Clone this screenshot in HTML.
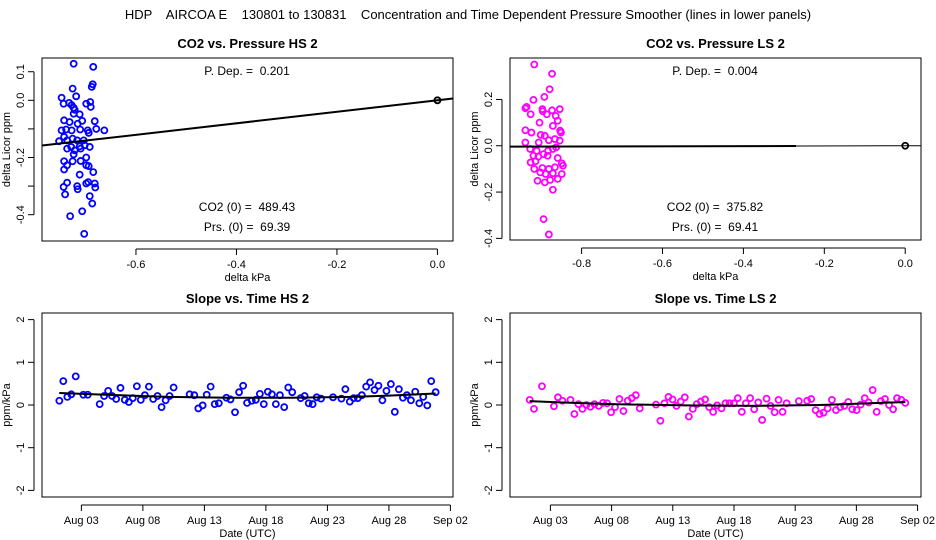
<!DOCTYPE html>
<html><head><meta charset="utf-8"><style>
body{margin:0;background:#fff;}
svg{display:block;font-family:"Liberation Sans",sans-serif;}
svg text{white-space:pre;}
</style></head><body>
<svg id="c" width="936" height="540">
<text x="468" y="19" text-anchor="middle" font-size="13" xml:space="preserve">HDP    AIRCOA E    130801 to 130831    Concentration and Time Dependent Pressure Smoother (lines in lower panels)</text>
</svg>
<script>
// ---- data: top-left (HS) ----
const hsX=[-0.724,-0.685,-0.726,-0.688,-0.686,-0.719,-0.748,-0.744,-0.733,-0.728,-0.724,-0.722,-0.712,-0.724,-0.691,-0.699,-0.690,-0.743,-0.732,-0.707,-0.716,-0.682,-0.679,-0.663,-0.748,-0.739,-0.728,-0.711,-0.696,-0.694,-0.753,-0.743,-0.737,-0.726,-0.717,-0.704,-0.692,-0.737,-0.729,-0.722,-0.712,-0.710,-0.702,-0.724,-0.699,-0.743,-0.726,-0.710,-0.743,-0.737,-0.699,-0.694,-0.685,-0.712,-0.737,-0.744,-0.717,-0.716,-0.699,-0.695,-0.682,-0.681,-0.741,-0.692,-0.687,-0.731,-0.707,-0.703];
const hsY=[0.128,0.117,0.041,0.047,0.056,0.014,0.009,-0.012,-0.009,-0.017,-0.026,-0.033,-0.049,-0.047,-0.006,-0.012,-0.023,-0.070,-0.076,-0.072,-0.082,-0.073,-0.100,-0.105,-0.105,-0.102,-0.105,-0.102,-0.105,-0.114,-0.143,-0.128,-0.140,-0.134,-0.140,-0.140,-0.163,-0.169,-0.163,-0.175,-0.161,-0.169,-0.157,-0.189,-0.200,-0.213,-0.213,-0.212,-0.242,-0.227,-0.227,-0.230,-0.251,-0.260,-0.288,-0.303,-0.300,-0.311,-0.291,-0.286,-0.291,-0.305,-0.329,-0.335,-0.361,-0.405,-0.388,-0.467];
const hsSlope=0.201;
// ---- data: top-right (LS) ----
const lsX=[-0.917,-0.873,-0.879,-0.892,-0.919,-0.936,-0.897,-0.873,-0.854,-0.896,-0.886,-0.864,-0.904,-0.859,-0.871,-0.853,-0.939,-0.924,-0.901,-0.891,-0.851,-0.881,-0.866,-0.854,-0.939,-0.906,-0.927,-0.911,-0.894,-0.883,-0.871,-0.863,-0.919,-0.907,-0.884,-0.859,-0.926,-0.914,-0.849,-0.846,-0.917,-0.897,-0.881,-0.866,-0.902,-0.889,-0.871,-0.849,-0.909,-0.891,-0.878,-0.859,-0.871,-0.894,-0.881,-0.939,-0.926];
const lsY=[0.351,0.311,0.244,0.211,0.198,0.168,0.158,0.153,0.158,0.149,0.136,0.129,0.100,0.108,0.086,0.065,0.067,0.057,0.047,0.043,0.057,0.024,0.029,0.022,0.014,0.014,-0.014,-0.022,-0.036,-0.022,-0.014,-0.007,-0.043,-0.047,-0.043,-0.053,-0.072,-0.067,-0.076,-0.086,-0.100,-0.096,-0.100,-0.093,-0.115,-0.122,-0.119,-0.122,-0.151,-0.158,-0.148,-0.143,-0.190,-0.317,-0.383,0.162,0.136];
const lsSlope=0.004;
// ---- data: bottom-left slope vs time (HS), day of Aug ----
const hsDay=[1.21,1.53,1.86,2.18,2.54,3.16,3.52,4.49,4.85,5.18,5.50,5.83,6.18,6.53,6.86,7.18,7.51,7.83,8.16,8.49,8.84,9.19,9.52,9.85,10.17,10.50,11.80,12.18,12.51,12.86,13.19,13.51,13.84,14.17,14.79,15.12,15.49,15.82,16.15,16.47,16.85,17.18,17.51,17.83,18.16,18.49,18.81,19.14,19.49,19.82,20.14,20.83,21.15,21.48,21.80,22.13,22.48,23.46,24.14,24.46,24.82,25.14,25.47,25.80,26.15,26.47,26.83,27.15,27.47,27.80,28.16,28.48,28.81,29.14,29.46,29.79,30.14,30.47,30.79,31.12,31.44,31.80];
const hsSl=[0.10,0.56,0.19,0.25,0.67,0.24,0.24,0.02,0.21,0.33,0.21,0.14,0.40,0.12,0.07,0.16,0.44,0.12,0.23,0.43,0.14,0.21,-0.05,0.11,0.21,0.41,0.25,0.23,-0.08,-0.01,0.24,0.43,0.02,0.04,0.17,0.13,-0.17,0.30,0.45,0.05,0.10,0.12,0.26,0.02,0.31,0.25,0.02,0.23,-0.05,0.41,0.30,0.16,0.21,0.04,0.02,0.18,0.15,0.18,0.15,0.37,0.08,0.16,0.16,0.23,0.43,0.53,0.35,0.45,0.11,0.33,0.49,-0.16,0.37,0.17,0.23,0.11,0.31,0.04,0.19,-0.01,0.56,0.30];
const hsSmDay=[1.2,5,10,15,20,25,28,31.8];
const hsSmVal=[0.28,0.24,0.19,0.17,0.17,0.19,0.22,0.27];
// ---- data: bottom-right slope vs time (LS) ----
const lsDay=[1.31,1.66,2.31,3.29,3.62,3.98,4.64,4.96,5.29,5.62,5.94,6.27,6.60,6.95,7.30,7.63,7.96,8.28,8.64,8.97,9.32,9.65,9.98,10.30,11.63,11.99,12.32,12.65,12.98,13.30,13.65,13.98,14.31,14.64,14.96,15.29,15.64,15.97,16.30,16.62,16.98,17.31,17.64,17.99,18.31,18.64,18.97,19.32,19.65,19.98,20.30,20.66,20.99,21.32,21.64,21.97,22.30,23.30,23.98,24.31,24.67,24.99,25.32,25.65,26.00,26.33,26.68,27.01,27.34,27.66,28.02,28.35,28.68,29.00,29.33,29.66,30.01,30.34,30.67,31.00,31.32,31.67,32.00];
const lsSl=[0.12,-0.09,0.44,-0.03,0.18,0.10,0.12,-0.21,0.02,-0.09,0.00,-0.04,0.02,-0.02,0.05,0.04,-0.17,-0.05,0.14,-0.14,0.10,0.16,0.23,-0.08,0.01,-0.37,0.04,0.19,0.13,-0.02,0.08,0.18,-0.27,-0.09,0.02,0.08,0.13,-0.05,-0.16,-0.01,-0.08,0.04,0.04,0.04,0.16,-0.16,0.04,0.16,-0.10,0.06,-0.35,0.15,-0.02,-0.17,0.12,-0.16,0.04,0.09,0.10,0.14,-0.12,-0.21,-0.18,-0.08,0.12,-0.12,-0.05,-0.02,0.07,-0.10,-0.12,0.01,0.16,0.06,0.35,-0.16,0.09,0.14,0.00,-0.10,0.16,0.12,0.05];
const lsSmDay=[1.3,4,8,14,20,25,28,32];
const lsSmVal=[0.09,0.06,0.02,-0.01,-0.02,0.00,0.03,0.07];
const dateTicks=[3,8,13,18,23,28,33];
const dateLabels=["Aug 03","Aug 08","Aug 13","Aug 18","Aug 23","Aug 28","Sep 02"];

const svg=document.getElementById('c');
const NS='http://www.w3.org/2000/svg';
function mk(tag,at,txt){const e=document.createElementNS(NS,tag);for(const k in at)e.setAttribute(k,at[k]);if(txt!==undefined)e.textContent=txt;svg.appendChild(e);return e;}
function panel(o){
  const sx=v=>o.x0+(v-o.xmin)/(o.xmax-o.xmin)*(o.x1-o.x0);
  const sy=v=>o.y1-(v-o.ymin)/(o.ymax-o.ymin)*(o.y1-o.y0);
  let e=mk('rect',{x:o.x0,y:o.y0,width:o.x1-o.x0,height:o.y1-o.y0,fill:'none',stroke:'#000','stroke-width':1});
  
  e=mk('text',{x:(o.x0+o.x1)/2,y:o.y0-10,'text-anchor':'middle','font-size':13,'font-weight':'bold'},o.title);
  
  const xl=sx(o.xt[0]),xr=sx(o.xt[o.xt.length-1]);
  mk('line',{x1:xl,x2:xr,y1:o.y1+8,y2:o.y1+8,stroke:'#000'});
  o.xt.forEach((t,i)=>{const X=sx(t);mk('line',{x1:X,x2:X,y1:o.y1+8,y2:o.y1+14,stroke:'#000'});
    e=mk('text',{x:X,y:o.y1+27,'text-anchor':'middle','font-size':11},o.xl[i]);
    });
  e=mk('text',{x:(o.x0+o.x1)/2,y:o.y1+40,'text-anchor':'middle','font-size':11},o.xtitle);
  
  const yb=sy(o.yt[0]),ytp=sy(o.yt[o.yt.length-1]);
  mk('line',{x1:o.x0-8,x2:o.x0-8,y1:yb,y2:ytp,stroke:'#000'});
  o.yt.forEach((t,i)=>{const Y=sy(t);mk('line',{x1:o.x0-8,x2:o.x0-14,y1:Y,y2:Y,stroke:'#000'});
    if(o.yl[i]!==''){e=mk('text',{x:o.x0-18,y:Y,'text-anchor':'middle','font-size':11,transform:`rotate(-90 ${o.x0-18} ${Y})`},o.yl[i]);
    }});
  const cy=(o.y0+o.y1)/2;
  e=mk('text',{x:o.x0-32,y:cy,'text-anchor':'middle','font-size':11,transform:`rotate(-90 ${o.x0-32} ${cy})`},o.ytitle);
  
  return {sx,sy};
}
function pts(a,xs,ys,col,name){xs.forEach((v,i)=>{const e=mk('circle',{cx:a.sx(v),cy:a.sy(ys[i]),r:3,fill:'none',stroke:col,'stroke-width':1.8});
  });}
function txt(x,y,s,name){const e=mk('text',{x:x,y:y,'text-anchor':'middle','font-size':12,'xml:space':'preserve'},s);}

let A=panel({id:'hs-pressure',x0:42,x1:453,y0:58,y1:241,xmin:-0.787,xmax:0.031,ymin:-0.492,ymax:0.148,
  xt:[-0.6,-0.4,-0.2,0],xl:['-0.6','-0.4','-0.2','0.0'],yt:[-0.4,-0.3,-0.2,-0.1,0,0.1],yl:['-0.4','','-0.2','','0.0','0.1'],
  title:'CO2 vs. Pressure HS 2',xtitle:'delta kPa',ytitle:'delta Licor ppm'});
pts(A,hsX,hsY,'#0000ff','hs-point');
let L=mk('line',{x1:A.sx(-0.787),y1:A.sy(-0.787*hsSlope),x2:A.sx(0.031),y2:A.sy(0.031*hsSlope),stroke:'#000','stroke-width':2});

mk('circle',{cx:A.sx(0),cy:A.sy(0),r:3,fill:'none',stroke:'#000','stroke-width':1.8});
txt(247,75,'P. Dep. =  0.201','hs-pdep');txt(247,211,'CO2 (0) =  489.43','hs-co2-0');txt(247,231,'Prs. (0) =  69.39','hs-prs-0');

let B=panel({id:'ls-pressure',x0:510,x1:921,y0:58,y1:240,xmin:-0.977,xmax:0.039,ymin:-0.407,ymax:0.379,
  xt:[-0.8,-0.6,-0.4,-0.2,0],xl:['-0.8','-0.6','-0.4','-0.2','0.0'],yt:[-0.4,-0.2,0,0.2],yl:['-0.4','-0.2','0.0','0.2'],
  title:'CO2 vs. Pressure LS 2',xtitle:'delta kPa',ytitle:'delta Licor ppm'});
pts(B,lsX,lsY,'#ff00ff','ls-point');
L=mk('line',{x1:B.sx(-0.977),y1:B.sy(-0.977*lsSlope),x2:B.sx(0.039),y2:B.sy(0.039*lsSlope),stroke:'#000','stroke-width':1});

mk('line',{x1:B.sx(-0.977),y1:B.sy(-0.977*lsSlope),x2:B.sx(-0.27),y2:B.sy(-0.27*lsSlope),stroke:'#000','stroke-width':2});
mk('circle',{cx:B.sx(0),cy:B.sy(0),r:3,fill:'none',stroke:'#000','stroke-width':1.8});
txt(715,75,'P. Dep. =  0.004','ls-pdep');txt(715,211,'CO2 (0) =  375.82','ls-co2-0');txt(715,231,'Prs. (0) =  69.41','ls-prs-0');

let C=panel({id:'hs-time',x0:42,x1:453,y0:313,y1:497,xmin:-0.2,xmax:33.21,ymin:-2.155,ymax:2.155,
  xt:dateTicks,xl:dateLabels,yt:[-2,-1,0,1,2],yl:['-2','-1','0','1','2'],
  title:'Slope vs. Time HS 2',xtitle:'Date (UTC)',ytitle:'ppm/kPa'});
pts(C,hsDay,hsSl,'#0000ff','hs-slope-point');
L=mk('polyline',{points:hsSmDay.map((d,i)=>C.sx(d)+','+C.sy(hsSmVal[i])).join(' '),fill:'none',stroke:'#000','stroke-width':2});


let D=panel({id:'ls-time',x0:510,x1:921,y0:313,y1:497,xmin:-0.3,xmax:33.28,ymin:-2.155,ymax:2.155,
  xt:dateTicks,xl:dateLabels,yt:[-2,-1,0,1,2],yl:['-2','-1','0','1','2'],
  title:'Slope vs. Time LS 2',xtitle:'Date (UTC)',ytitle:'ppm/kPa'});
pts(D,lsDay,lsSl,'#ff00ff','ls-slope-point');
L=mk('polyline',{points:lsSmDay.map((d,i)=>D.sx(d)+','+D.sy(lsSmVal[i])).join(' '),fill:'none',stroke:'#000','stroke-width':2});

</script>
</body></html>
